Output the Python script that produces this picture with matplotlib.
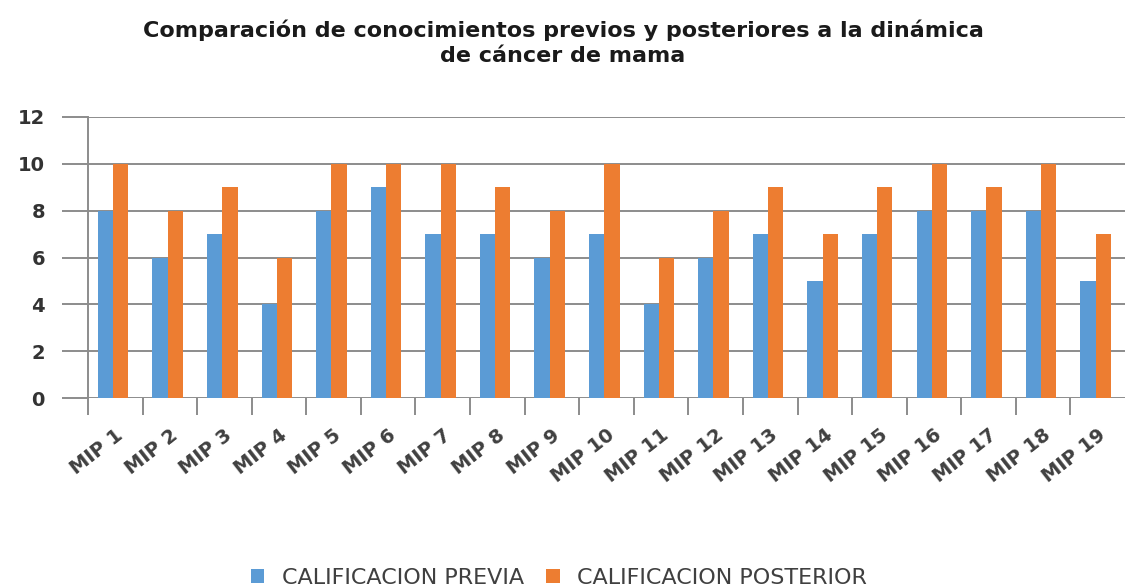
import matplotlib
matplotlib.use("Agg")
import matplotlib.pyplot as plt
import numpy as np

categories = [f"MIP {i}" for i in range(1, 20)]
previa = [8, 6, 7, 4, 8, 9, 7, 7, 6, 7, 4, 6, 7, 5, 7, 8, 8, 8, 5]
posterior = [10, 8, 9, 6, 10, 10, 10, 9, 8, 10, 6, 8, 9, 7, 9, 10, 9, 10, 7]
yticks = [0, 2, 4, 6, 8, 10, 12]
series_names = ["CALIFICACION PREVIA", "CALIFICACION POSTERIOR"]

plt.rcParams['font.family'] = ['DejaVu Sans']

fig = plt.figure(figsize=(11.26, 5.87), dpi=100)
ax = fig.add_axes([88/1126, (587-398)/587, (1125-88)/1126, (398-117)/587])

x = np.arange(len(categories))
w = 0.28
blue = "#5B9BD5"
orange = "#ED7D31"
ax.bar(x - w/2 - 0.04, previa, width=w, color=blue, label=series_names[0], zorder=3)
ax.bar(x + w/2 - 0.04, posterior, width=w, color=orange, label=series_names[1], zorder=3)

ax.set_xlim(-0.5, len(categories) - 0.5)
ax.set_ylim(0, 12)
ax.set_yticks(yticks)
ax.yaxis.grid(True, color="#8c8c8c", linewidth=1.4, zorder=0)
ax.set_axisbelow(True)

for s in ["top", "right", "bottom"]:
    ax.spines[s].set_visible(False)
ax.spines["left"].set_color("#8c8c8c")
ax.spines["left"].set_linewidth(1.4)

ax.tick_params(axis="y", length=19, width=1.4, color="#8c8c8c", pad=12,
               labelsize=14, labelcolor="#333333")
for lbl in ax.get_yticklabels():
    lbl.set_fontweight("bold")

# category boundary ticks
ax.set_xticks(np.arange(len(categories)) - 0.5)
ax.set_xticklabels([""] * len(categories))
ax.tick_params(axis="x", length=12, width=1.4, color="#8c8c8c", direction="out")
for i, c in enumerate(categories):
    ax.annotate(c, xy=(i, 0), xycoords="data", xytext=(4, -25),
                textcoords="offset points", rotation=38, rotation_mode="anchor",
                ha="right", va="center", fontsize=14, fontweight="bold",
                color="#404040")

fig.text(0.5, 1 - 30/587, "Comparación de conocimientos previos y posteriores a la dinámica",
         ha="center", va="center", fontsize=16, fontweight="bold", color="#1a1a1a")
fig.text(0.5, 1 - 56/587, "de cáncer de mama",
         ha="center", va="center", fontsize=16, fontweight="bold", color="#1a1a1a")

leg = fig.legend(loc="center", bbox_to_anchor=(559/1126, 1 - 578/587), ncol=2, frameon=False,
                 fontsize=16, handlelength=0.6, handleheight=0.6, columnspacing=1.0,
                 handletextpad=0.8)
for t in leg.get_texts():
    t.set_color("#404040")

fig.savefig("out.png", dpi=100)
